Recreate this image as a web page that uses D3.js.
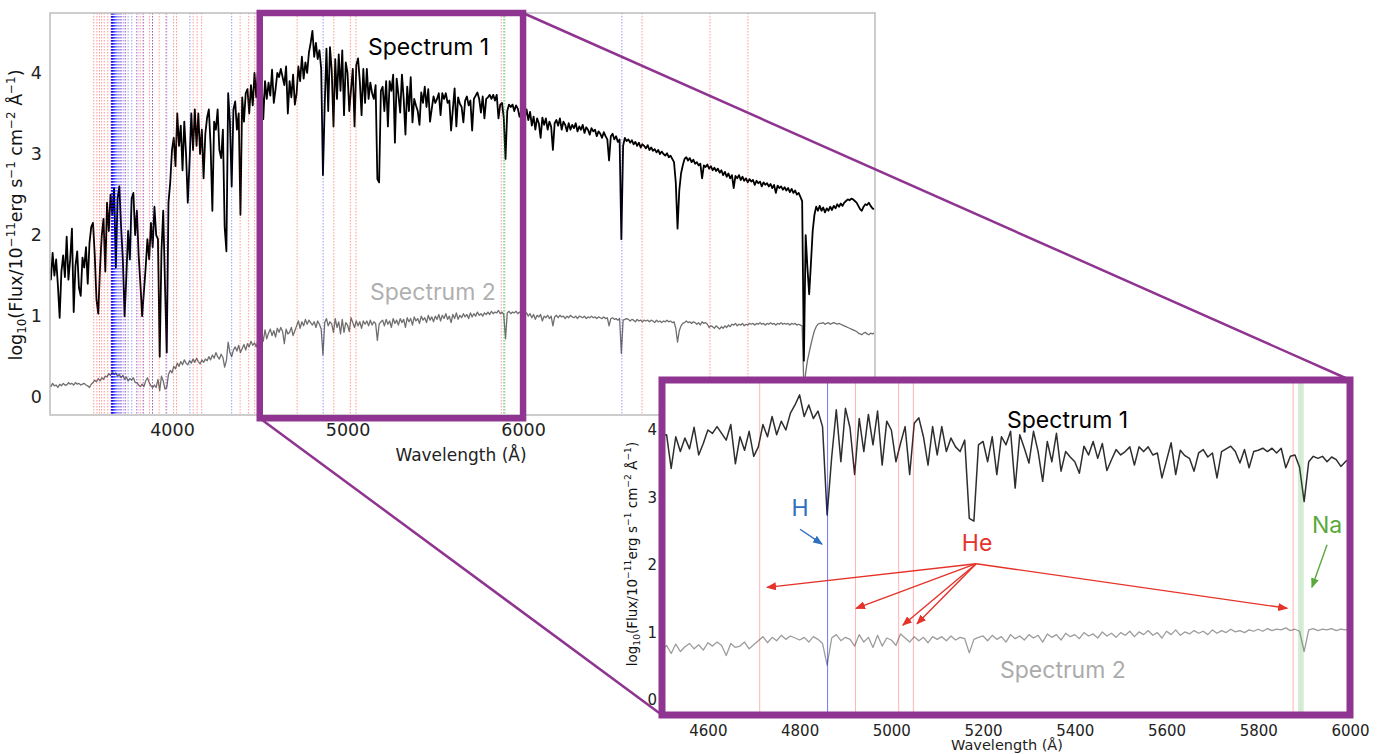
<!DOCTYPE html>
<html>
<head>
<meta charset="utf-8">
<script src="https://cdn.jsdelivr.net/npm/d3@7"></script>
<style>
  body { margin: 0; background: #fff; }
  svg text { font-family: "DejaVu Sans", sans-serif; }
  .note { font-family: Inter, "Open Sans", sans-serif; }
</style>
</head>
<body>
<div id="chart"></div>
<script>
// wavelength grid of the spectra (Angstrom)
var waveStart = 3300, waveStep = 10;

// log10 flux, one value every 10 A from 3300 to 8000
var spectrum1 = [
  1.62, 1.45, 1.78, 1.50, 1.70, 1.38, 0.98, 1.55, 1.75, 1.48, // 3300
  1.98, 1.45, 1.70, 2.08, 1.05, 1.62, 1.80, 1.35, 1.25, 1.72, // 3400
  1.60, 1.85, 1.40, 1.90, 2.10, 2.15, 1.75, 1.20, 1.03, 1.60, // 3500
  2.00, 2.20, 1.55, 2.40, 2.05, 2.50, 2.25, 2.58, 1.60, 2.45, // 3600
  2.60, 2.10, 1.70, 1.00, 1.50, 2.05, 1.70, 2.45, 2.52, 2.00, // 3700
  2.30, 1.75, 1.40, 1.00, 1.30, 1.60, 1.95, 1.70, 2.15, 1.85, // 3800
  2.35, 2.00, 1.95, 0.50, 1.80, 2.30, 1.40, 0.55, 2.40, 2.65, // 3900
  3.05, 3.20, 2.85, 3.50, 3.10, 3.35, 2.80, 3.40, 3.00, 2.40, // 4000
  2.90, 3.50, 3.05, 3.55, 3.10, 3.50, 3.00, 3.30, 2.70, 3.25, // 4100
  3.45, 3.55, 3.10, 2.30, 3.40, 3.30, 3.55, 3.05, 2.95, 3.30, // 4200
  2.10, 1.80, 3.75, 3.40, 2.60, 3.55, 3.65, 3.30, 3.50, 2.25, // 4300
  3.70, 3.40, 3.75, 3.80, 3.50, 3.85, 3.60, 4.00, 3.70, 4.05, // 4400
  3.92, 3.93, 3.43, 3.90, 3.68, 3.88, 3.72, 4.04, 3.63, 3.80, // 4500
  4.00, 3.95, 4.05, 3.95, 3.85, 4.08, 3.50, 3.90, 3.70, 3.98, // 4600
  3.61, 3.75, 4.08, 3.90, 4.20, 3.93, 4.13, 4.00, 4.25, 4.37, // 4700
  4.52, 4.20, 4.37, 4.17, 4.28, 4.05, 2.74, 3.60, 4.30, 3.53, // 4800
  4.32, 4.03, 3.34, 4.17, 3.68, 4.23, 3.78, 4.28, 3.48, 4.13, // 4900
  4.00, 3.53, 3.80, 4.05, 3.34, 4.10, 4.18, 3.90, 3.48, 4.05, // 5000
  3.63, 4.05, 3.68, 3.88, 3.75, 3.68, 3.85, 2.69, 2.65, 3.78, // 5100
  3.83, 3.53, 3.90, 3.34, 3.90, 3.78, 3.98, 3.14, 3.93, 3.73, // 5200
  3.51, 3.98, 3.68, 3.24, 3.83, 3.53, 3.95, 3.39, 3.68, 3.60, // 5300
  3.53, 3.36, 3.76, 3.63, 3.83, 3.58, 3.80, 3.40, 3.56, 3.71, // 5400
  3.63, 3.68, 3.75, 3.48, 3.75, 3.68, 3.75, 3.63, 3.66, 3.29, // 5500
  3.55, 3.81, 3.34, 3.70, 3.62, 3.58, 3.39, 3.66, 3.71, 3.60, // 5600
  3.66, 3.29, 3.68, 3.72, 3.76, 3.68, 3.51, 3.71, 3.44, 3.68, // 5700
  3.70, 3.73, 3.68, 3.73, 3.66, 3.73, 3.44, 3.61, 3.63, 3.45, // 5800
  2.94, 3.53, 3.61, 3.58, 3.61, 3.53, 3.60, 3.56, 3.46, 3.53, // 5900
  3.58, 3.45, 3.55, 3.42, 3.52, 3.35, 3.46, 3.30, 3.44, 3.38, // 6000
  3.20, 3.45, 3.36, 3.44, 3.30, 3.40, 3.34, 3.05, 3.38, 3.42, // 6100
  3.35, 3.44, 3.30, 3.40, 3.36, 3.28, 3.38, 3.30, 3.36, 3.32, // 6200
  3.38, 3.28, 3.34, 3.30, 3.36, 3.26, 3.33, 3.30, 3.24, 3.32, // 6300
  3.28, 3.30, 3.22, 3.28, 3.25, 3.20, 3.27, 3.22, 3.18, 2.92, // 6400
  3.22, 3.25, 3.18, 3.22, 3.15, 3.18, 1.95, 3.10, 3.20, 3.16, // 6500
  3.18, 3.14, 3.17, 3.12, 3.15, 3.10, 3.14, 3.08, 3.12, 3.10, // 6600
  3.07, 3.11, 3.05, 3.08, 3.04, 3.06, 3.02, 3.05, 3.00, 3.03, // 6700
  3.00, 2.98, 3.01, 2.96, 2.98, 2.94, 2.90, 2.65, 2.08, 2.55, // 6800
  2.76, 2.86, 2.94, 2.96, 2.92, 2.95, 2.90, 2.93, 2.88, 2.90, // 6900
  2.86, 2.88, 2.70, 2.86, 2.84, 2.87, 2.82, 2.85, 2.80, 2.83, // 7000
  2.79, 2.82, 2.77, 2.80, 2.74, 2.78, 2.72, 2.76, 2.70, 2.74, // 7100
  2.58, 2.73, 2.70, 2.74, 2.68, 2.72, 2.67, 2.70, 2.65, 2.69, // 7200
  2.66, 2.68, 2.62, 2.67, 2.64, 2.66, 2.60, 2.65, 2.62, 2.64, // 7300
  2.60, 2.63, 2.58, 2.62, 2.52, 2.61, 2.58, 2.60, 2.56, 2.59, // 7400
  2.55, 2.58, 2.53, 2.57, 2.52, 2.55, 2.50, 2.52, 2.47, 2.42, // 7500
  0.45, 2.00, 1.60, 1.27, 1.65, 2.05, 2.25, 2.35, 2.30, 2.36, // 7600
  2.30, 2.34, 2.28, 2.33, 2.30, 2.35, 2.31, 2.36, 2.33, 2.38, // 7700
  2.35, 2.39, 2.36, 2.40, 2.42, 2.44, 2.43, 2.45, 2.44, 2.42, // 7800
  2.40, 2.36, 2.32, 2.30, 2.35, 2.38, 2.37, 2.40, 2.36, 2.33, // 7900
  2.32
];

var spectrum2 = [
  0.16, 0.13, 0.17, 0.14, 0.15, 0.12, 0.16, 0.14, 0.17, 0.15, // 3300
  0.15, 0.18, 0.16, 0.17, 0.15, 0.18, 0.16, 0.17, 0.15, 0.16, // 3400
  0.17, 0.15, 0.14, 0.12, 0.16, 0.18, 0.21, 0.19, 0.23, 0.20, // 3500
  0.24, 0.22, 0.26, 0.25, 0.29, 0.27, 0.31, 0.28, 0.30, 0.26, // 3600
  0.28, 0.24, 0.27, 0.22, 0.25, 0.20, 0.23, 0.21, 0.24, 0.18, // 3700
  0.18, 0.15, 0.13, 0.16, 0.13, 0.20, 0.24, 0.18, 0.14, 0.12, // 3800
  0.15, 0.12, 0.22, 0.08, 0.26, 0.20, 0.10, 0.12, 0.28, 0.33, // 3900
  0.30, 0.38, 0.35, 0.42, 0.38, 0.44, 0.40, 0.46, 0.42, 0.40, // 4000
  0.45, 0.42, 0.47, 0.43, 0.48, 0.44, 0.41, 0.46, 0.43, 0.47, // 4100
  0.45, 0.50, 0.46, 0.52, 0.48, 0.55, 0.50, 0.47, 0.53, 0.49, // 4200
  0.37, 0.45, 0.68, 0.55, 0.50, 0.58, 0.62, 0.57, 0.64, 0.55, // 4300
  0.60, 0.65, 0.58, 0.66, 0.62, 0.69, 0.64, 0.67, 0.62, 0.70, // 4400
  0.74, 0.81, 0.69, 0.83, 0.72, 0.79, 0.84, 0.76, 0.82, 0.74, // 4500
  0.85, 0.80, 0.86, 0.81, 0.66, 0.84, 0.78, 0.80, 0.86, 0.76, // 4600
  0.82, 0.88, 0.94, 0.85, 0.93, 0.88, 0.96, 0.90, 0.95, 0.92, // 4700
  0.89, 0.93, 0.86, 0.94, 0.90, 0.84, 0.52, 0.92, 0.97, 0.88, // 4800
  0.93, 0.90, 0.80, 0.97, 0.86, 0.93, 0.78, 0.96, 0.80, 0.92, // 4900
  0.89, 0.81, 0.98, 0.92, 0.86, 0.94, 0.88, 0.93, 0.85, 0.94, // 5000
  0.90, 0.94, 0.88, 0.95, 0.89, 0.93, 0.91, 0.70, 0.90, 0.93, // 5100
  0.95, 0.88, 0.96, 0.90, 0.94, 0.86, 0.97, 0.91, 0.95, 0.89, // 5200
  0.97, 0.92, 0.96, 0.86, 0.98, 0.93, 0.97, 0.89, 0.99, 0.94, // 5300
  0.97, 0.91, 1.00, 0.95, 0.98, 0.92, 1.01, 0.95, 0.99, 0.93, // 5400
  1.00, 0.96, 1.02, 0.94, 1.01, 0.97, 1.03, 0.96, 1.00, 0.92, // 5500
  1.02, 0.97, 1.04, 0.96, 1.01, 0.98, 1.03, 0.99, 1.02, 0.97, // 5600
  1.04, 0.99, 1.03, 1.00, 1.05, 1.01, 1.03, 1.00, 1.04, 1.02, // 5700
  1.05, 1.02, 1.06, 1.03, 1.05, 1.04, 1.07, 1.03, 1.05, 1.02, // 5800
  0.72, 1.04, 1.06, 1.03, 1.05, 1.04, 1.06, 1.03, 1.05, 1.04, // 5900
  1.05, 1.02, 1.04, 1.00, 1.03, 0.98, 1.02, 0.96, 1.01, 0.99, // 6000
  1.02, 0.94, 1.00, 0.98, 1.01, 0.97, 1.00, 0.88, 0.99, 1.01, // 6100
  0.98, 1.01, 0.99, 1.00, 0.97, 1.00, 0.98, 1.01, 0.99, 0.98, // 6200
  1.00, 0.97, 1.00, 0.99, 0.98, 1.00, 0.97, 0.99, 0.98, 1.00, // 6300
  0.98, 0.99, 0.97, 0.99, 0.98, 0.97, 0.99, 0.97, 0.98, 0.88, // 6400
  0.97, 0.98, 0.96, 0.97, 0.95, 0.97, 0.54, 0.95, 0.96, 0.97, // 6500
  0.96, 0.94, 0.96, 0.95, 0.93, 0.96, 0.94, 0.95, 0.93, 0.95, // 6600
  0.94, 0.95, 0.93, 0.95, 0.94, 0.92, 0.95, 0.93, 0.94, 0.92, // 6700
  0.94, 0.93, 0.95, 0.93, 0.94, 0.92, 0.93, 0.85, 0.68, 0.82, // 6800
  0.88, 0.91, 0.92, 0.94, 0.92, 0.93, 0.91, 0.93, 0.92, 0.90, // 6900
  0.92, 0.89, 0.93, 0.91, 0.92, 0.90, 0.86, 0.88, 0.87, 0.85, // 7000
  0.88, 0.86, 0.84, 0.87, 0.85, 0.88, 0.86, 0.89, 0.87, 0.90, // 7100
  0.89, 0.91, 0.88, 0.90, 0.89, 0.91, 0.88, 0.90, 0.89, 0.91, // 7200
  0.90, 0.91, 0.89, 0.91, 0.90, 0.92, 0.90, 0.91, 0.89, 0.91, // 7300
  0.90, 0.92, 0.90, 0.91, 0.89, 0.91, 0.90, 0.92, 0.90, 0.91, // 7400
  0.90, 0.91, 0.89, 0.91, 0.90, 0.91, 0.89, 0.90, 0.89, 0.88, // 7500
  0.10, 0.30, 0.45, 0.55, 0.65, 0.74, 0.82, 0.87, 0.90, 0.91, // 7600
  0.91, 0.92, 0.90, 0.91, 0.92, 0.90, 0.91, 0.92, 0.91, 0.90, // 7700
  0.91, 0.90, 0.89, 0.88, 0.87, 0.86, 0.85, 0.84, 0.83, 0.82, // 7800
  0.81, 0.79, 0.78, 0.77, 0.79, 0.80, 0.78, 0.77, 0.79, 0.78, // 7900
  0.79
];

// line markers (Angstrom)
var heLines = [3554, 3572, 3587, 3599, 3614, 3634, 3652, 3705, 3733, 3806, 3819, 3838,
  3872, 3889, 3927, 3965, 4009, 4026, 4121, 4143, 4169, 4388, 4437, 4471,
  4713, 4922, 5016, 5048, 5876, 6678, 7065, 7281];
var hLines = [6563, 4861, 4340, 4102, 3970, 3889, 3835, 3798, 3771, 3750, 3734, 3722,
  3712, 3704, 3697, 3692, 3687, 3683, 3679, 3676, 3674, 3672, 3670, 3668, 3666,
  3665, 3663, 3662, 3661, 3660, 3659, 3658, 3657.5, 3657, 3656.5, 3656, 3655.5];
var naLines = [5890, 5896];

var mainTicksX = [4000, 5000, 6000, 7000, 8000];
var insetTicksX = [4600, 4800, 5000, 5200, 5400, 5600, 5800, 6000];
var ticksY = [0, 1, 2, 3, 4];

var mainDomainX = [3305, 8005], insetDomainX = [4500, 6000], domainY = [-0.22, 4.74];

// annotations in inset coordinates [wavelength, log flux]
var hNote = { text: "H", at: [4801, 2.84], from: [4801, 2.53], to: [4849, 2.31] };
var heNote = { text: "He", at: [5187, 2.33], from: [5185, 2.02],
  to: [[4729, 1.67], [4923, 1.36], [5025, 1.11], [5056, 1.13], [5863, 1.36]] };
var naNote = { text: "Na", at: [5950, 2.59], from: [5950, 2.30], to: [5917, 1.67] };

var W = 1383, H = 754;
var purple = "#8f3490";
var svg = d3.select("#chart").append("svg").attr("width", W).attr("height", H);

var data = spectrum1.map(function(v, i) {
  return { w: waveStart + i * waveStep, s1: v, s2: spectrum2[i] };
});

var defs = svg.append("defs");
function marker(id, col) {
  defs.append("marker").attr("id", id)
    .attr("viewBox", "0 0 10 8").attr("refX", 9).attr("refY", 4)
    .attr("markerWidth", 10).attr("markerHeight", 8)
    .attr("markerUnits", "userSpaceOnUse").attr("orient", "auto")
    .append("path").attr("d", "M0,0 L10,4 L0,8 Z").attr("fill", col);
}
marker("arH", "#2f6fc0");
marker("arHe", "#e5332a");
marker("arNa", "#5aa83c");

function yLabel(g, x, y, size) {
  var t = g.append("text")
    .attr("transform", "translate(" + x + "," + y + ") rotate(-90)")
    .attr("text-anchor", "middle").style("font-size", size + "px").attr("fill", "#111");
  var s = size * 0.68, up = size * 0.42, dn = size * 0.25;
  t.append("tspan").text("log");
  t.append("tspan").attr("dy", dn).style("font-size", s + "px").text("10");
  t.append("tspan").attr("dy", -dn).text("(Flux/10");
  t.append("tspan").attr("dy", -up).style("font-size", s + "px").text("\u221211");
  t.append("tspan").attr("dy", up).text("erg s");
  t.append("tspan").attr("dy", -up).style("font-size", s + "px").text("\u22121");
  t.append("tspan").attr("dy", up).text(" cm");
  t.append("tspan").attr("dy", -up).style("font-size", s + "px").text("\u22122");
  t.append("tspan").attr("dy", up).text(" \u00c5");
  t.append("tspan").attr("dy", -up).style("font-size", s + "px").text("\u22121");
  t.append("tspan").attr("dy", up).text(")");
}

function drawPanel(box, xDomain, ticksXList, opt) {
  var x = d3.scaleLinear().domain(xDomain).range([box.x0, box.x1]);
  var y = d3.scaleLinear().domain(domainY).range([box.y1, box.y0]);
  var g = svg.append("g");
  var clipId = "clip" + opt.id;
  defs.append("clipPath").attr("id", clipId).append("rect")
    .attr("x", box.x0).attr("y", box.y0)
    .attr("width", box.x1 - box.x0).attr("height", box.y1 - box.y0);

  g.append("rect").attr("x", box.x0).attr("y", box.y0)
    .attr("width", box.x1 - box.x0).attr("height", box.y1 - box.y0)
    .attr("fill", "#fff");

  var plot = g.append("g").attr("clip-path", "url(#" + clipId + ")");
  var sub = data.filter(function(d) { return d.w >= xDomain[0] - 20 && d.w <= xDomain[1] + 20; });

  plot.append("path").datum(sub)
    .attr("d", d3.line().x(function(d) { return x(d.w); }).y(function(d) { return y(d.s2); }))
    .attr("fill", "none").attr("stroke", opt.c2).attr("stroke-width", opt.w2)
    .attr("stroke-linejoin", "round");
  plot.append("path").datum(sub)
    .attr("d", d3.line().x(function(d) { return x(d.w); }).y(function(d) { return y(d.s1); }))
    .attr("fill", "none").attr("stroke", opt.c1).attr("stroke-width", opt.w1)
    .attr("stroke-linejoin", "round");

  function vlines(list, col, op, wid) {
    plot.selectAll(null).data(list).enter().append("line")
      .attr("x1", function(d) { return x(d); }).attr("x2", function(d) { return x(d); })
      .attr("y1", box.y0).attr("y2", box.y1)
      .attr("stroke", col).attr("stroke-opacity", op).attr("stroke-width", wid)
      .attr("stroke-dasharray", opt.dash);
  }
  vlines(heLines, "#ff0000", opt.heOp, 1);
  vlines(hLines, "#0000ff", opt.hOp, 1);
  vlines(naLines, "#1a9a1a", opt.naOp, opt.naW);

  var xAxis = d3.axisBottom(x).tickValues(ticksXList).tickSize(0).tickPadding(opt.padX)
    .tickFormat(d3.format("d"));
  var ax = g.append("g").attr("transform", "translate(0," + box.y1 + ")").call(xAxis);
  ax.select(".domain").remove();
  ax.selectAll("text").style("font-size", opt.fs + "px").attr("fill", "#222");

  var yAxis = d3.axisLeft(y).tickValues(ticksY).tickSize(0).tickPadding(opt.padY)
    .tickFormat(d3.format("d"));
  var ay = g.append("g").attr("transform", "translate(" + box.x0 + ",0)").call(yAxis);
  ay.select(".domain").remove();
  ay.selectAll("text").style("font-size", opt.fs + "px").attr("fill", "#222");

  return { x: x, y: y, g: g };
}

// ---- main panel
var mainBox = { x0: 50, x1: 875, y0: 13, y1: 415 };
var main = drawPanel(mainBox, mainDomainX, mainTicksX, {
  id: "main", c1: "#000", w1: 1.8, c2: "#6f6f6f", w2: 1.3,
  heOp: 0.4, hOp: 0.4, dash: "1.5,1.5", naOp: 0.5, naW: 1, fs: 17.5, padX: 9, padY: 8
});
main.g.append("rect").attr("x", mainBox.x0).attr("y", mainBox.y0)
  .attr("width", mainBox.x1 - mainBox.x0).attr("height", mainBox.y1 - mainBox.y0)
  .attr("fill", "none").attr("stroke", "#bdbdbd").attr("stroke-width", 1.5);
yLabel(main.g, 22, 215, 17.5);
main.g.append("text").attr("x", 461).attr("y", 461).attr("text-anchor", "middle")
  .style("font-size", "17px").attr("fill", "#222").text("Wavelength (\u00c5)");
main.g.append("text").attr("class", "note").attr("x", 368).attr("y", 55)
  .style("font-size", "23px").attr("fill", "#000").text("Spectrum 1");
main.g.append("text").attr("class", "note").attr("x", 370).attr("y", 300)
  .style("font-size", "23px").attr("fill", "#b0b0b0").text("Spectrum 2");

// zoom box on the main panel
var zx0 = main.x(insetDomainX[0]), zx1 = main.x(insetDomainX[1]);
var zy0 = main.y(4.74), zy1 = main.y(-0.26);
svg.append("rect").attr("x", zx0).attr("y", zy0).attr("width", zx1 - zx0).attr("height", zy1 - zy0)
  .attr("fill", "none").attr("stroke", purple).attr("stroke-width", 6.5);

// ---- inset panel
var insetBox = { x0: 662, x1: 1350, y0: 380, y1: 715 };
svg.append("line").attr("x1", zx0).attr("y1", zy1).attr("x2", insetBox.x0).attr("y2", insetBox.y1)
  .attr("stroke", purple).attr("stroke-width", 2.5);
svg.append("line").attr("x1", zx1).attr("y1", zy0).attr("x2", insetBox.x1).attr("y2", insetBox.y0)
  .attr("stroke", purple).attr("stroke-width", 2.5);

var inset = drawPanel(insetBox, insetDomainX, insetTicksX, {
  id: "inset", c1: "#2e2e2e", w1: 1.5, c2: "#9c9c9c", w2: 1.3,
  heOp: 0.3, hOp: 0.55, dash: null, naOp: 0.18, naW: 3, fs: 15, padX: 10, padY: 5
});
inset.g.append("rect").attr("x", insetBox.x0).attr("y", insetBox.y0)
  .attr("width", insetBox.x1 - insetBox.x0).attr("height", insetBox.y1 - insetBox.y0)
  .attr("fill", "none").attr("stroke", purple).attr("stroke-width", 7);
yLabel(inset.g, 637, 554, 13.5);
inset.g.append("text").attr("x", 1007).attr("y", 750).attr("text-anchor", "middle")
  .style("font-size", "14.5px").attr("fill", "#222").text("Wavelength (\u00c5)");
inset.g.append("text").attr("class", "note").attr("x", 1007).attr("y", 428)
  .style("font-size", "23px").attr("fill", "#000").text("Spectrum 1");
inset.g.append("text").attr("class", "note").attr("x", 1000).attr("y", 678)
  .style("font-size", "23px").attr("fill", "#ababab").text("Spectrum 2");

// annotations
function note(n, col, mk) {
  var ix = inset.x, iy = inset.y;
  inset.g.append("text").attr("class", "note").attr("x", ix(n.at[0])).attr("y", iy(n.at[1]))
    .attr("text-anchor", "middle").attr("dy", "0.35em")
    .style("font-size", "23px").attr("fill", col).text(n.text);
  var targets = Array.isArray(n.to[0]) ? n.to : [n.to];
  targets.forEach(function(t) {
    inset.g.append("line")
      .attr("x1", ix(n.from[0])).attr("y1", iy(n.from[1]))
      .attr("x2", ix(t[0])).attr("y2", iy(t[1]))
      .attr("stroke", col).attr("stroke-width", 1.4).attr("marker-end", "url(#" + mk + ")");
  });
}
note(hNote, "#2f6fc0", "arH");
note(heNote, "#e5332a", "arHe");
note(naNote, "#5aa83c", "arNa");
</script>
</body>
</html>
